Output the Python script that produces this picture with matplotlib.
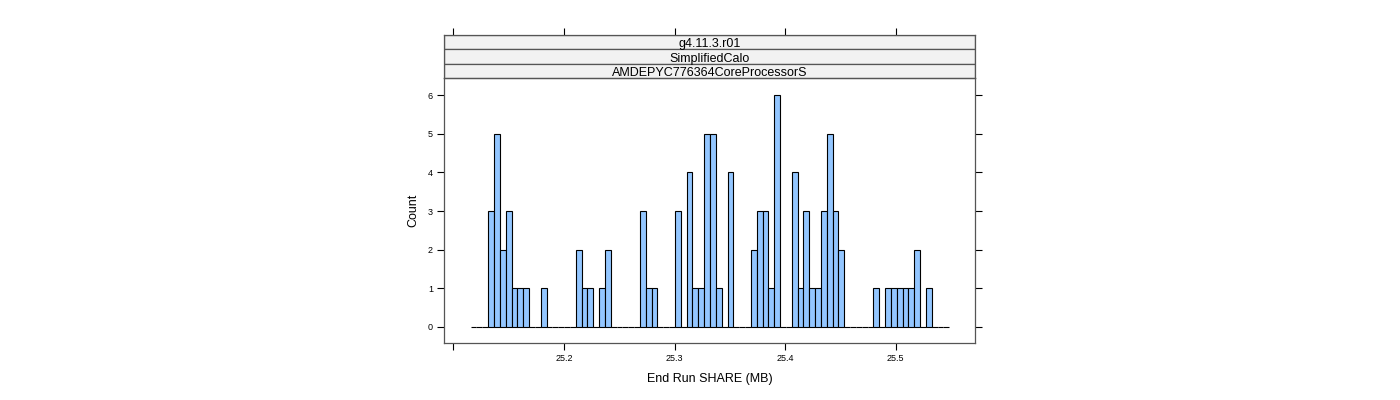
import matplotlib
matplotlib.use("Agg")
import matplotlib.pyplot as plt
from matplotlib.patches import Rectangle

plt.rcParams['font.family'] = ['Liberation Sans', 'DejaVu Sans']

# histogram breaks: 82 equal bins
bin_start = 25.1156
bin_width = 0.005278
n_bins = 82

# bin index -> count (all other bins are zero)
bar_bins = [3, 4, 5, 6, 7, 8, 9, 12, 18, 19, 20, 22, 23,
            29, 30, 31, 35, 37, 38, 39, 40, 41, 42, 44, 48, 49, 50, 51, 52,
            55, 56, 57, 58, 59, 60, 61, 62, 63, 69, 71, 72, 73, 74, 75, 76, 78]
bar_counts = [3, 5, 2, 3, 1, 1, 1, 1, 2, 1, 1, 1, 2,
              3, 1, 1, 3, 4, 1, 1, 5, 5, 1, 4, 2, 3, 3, 1, 6,
              4, 1, 3, 1, 1, 3, 5, 3, 2, 1, 1, 1, 1, 1, 1, 2, 1]

x_ticks = [25.1, 25.2, 25.3, 25.4, 25.5]
x_labels = ["", "25.2", "25.3", "25.4", "25.5"]
y_ticks = [0, 1, 2, 3, 4, 5, 6]
strips = ["g4.11.3.r01", "SimplifiedCalo", "AMDEPYC776364CoreProcessorS"]

counts = [0] * n_bins
for b, c in zip(bar_bins, bar_counts):
    counts[b] = c
lefts = [bin_start + i * bin_width for i in range(n_bins)]

W, H = 1400, 400
fig = plt.figure(figsize=(14, 4), dpi=100)
frame_col = "#555555"
x0, x1 = 25.0915, 25.5716

ax = fig.add_axes([444 / W, (H - 343) / H, 531 / W, 265 / H])
ax.bar(lefts, counts, width=bin_width, align="edge", color="#93C6FF",
       edgecolor="black", linewidth=0.8)
ax.set_xlim(x0, x1)
ax.set_ylim(-0.414, 6.44)
ax.set_xticks(x_ticks)
ax.set_xticklabels(x_labels)
ax.set_yticks(y_ticks)
ax.tick_params(direction="out", length=5, width=0.8, labelsize=6.5, colors="black",
               right=True, pad=3)
ax.tick_params(axis="y", pad=3)
for s in ax.spines.values():
    s.set_color(frame_col)
    s.set_linewidth(0.9)
ax.set_xlabel("End Run SHARE (MB)", fontsize=9, labelpad=7)
ax.set_ylabel("Count", fontsize=9, labelpad=6)

# strips
sax = fig.add_axes([444 / W, (H - 78) / H, 531 / W, 43 / H])
sax.set_xlim(x0, x1)
sax.set_ylim(0, 3)
for i, label in enumerate(strips):
    y0 = 2 - i
    sax.add_patch(Rectangle((x0, y0), x1 - x0, 1,
                            facecolor="#F2F2F2", edgecolor=frame_col, linewidth=0.9))
    sax.text(0.5 * (x0 + x1), y0 + 0.45, label, ha="center", va="center_baseline",
             fontsize=9)
sax.set_yticks([])
sax.set_xticks(x_ticks)
sax.tick_params(axis="x", direction="out", length=5, width=0.8, bottom=False,
                top=True, labelbottom=False, labeltop=False)
for s in sax.spines.values():
    s.set_color(frame_col)
    s.set_linewidth(0.9)

fig.savefig("out.png", dpi=100)
